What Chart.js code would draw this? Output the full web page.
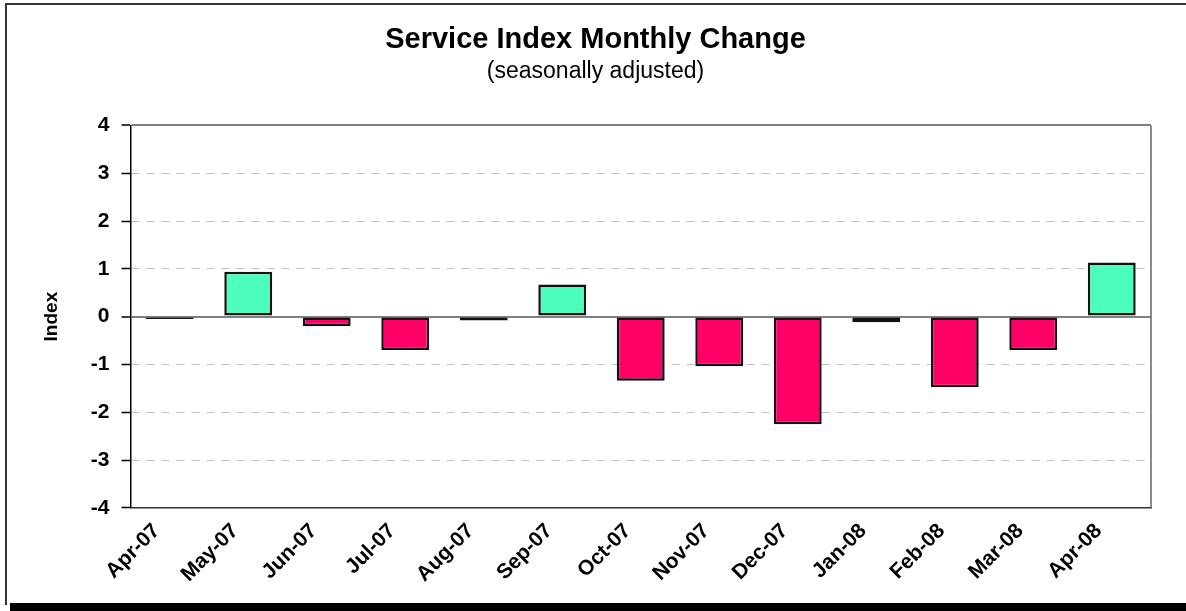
<!DOCTYPE html>
<html>
<head>
<meta charset="utf-8">
<script src="https://cdn.jsdelivr.net/npm/chart.js@4.4.1/dist/chart.umd.min.js"></script>
<style>
	body { margin: 0; background: #fff; overflow: hidden; }
	#wrap { position: absolute; left: 0; top: 0; width: 1186px; height: 611px; }
	#frame { position: absolute; left: 5px; top: 3px; width: 1300px; height: 600px; border-top: 2px solid #333; border-left: 2px solid #333; }
	#shadow { position: absolute; left: 10px; top: 603px; width: 1300px; height: 8px; background: #000; }
</style>
</head>
<body>
<div id="frame"></div>
<div id="shadow"></div>
<div id="wrap"><canvas id="myChart1"></canvas></div>
<script>
var months = ["Apr-07", "May-07", "Jun-07", "Jul-07", "Aug-07", "Sep-07", "Oct-07",
	"Nov-07", "Dec-07", "Jan-08", "Feb-08", "Mar-08", "Apr-08"];
var change = [-0.05, 0.94, -0.2, -0.7, -0.08, 0.67, -1.34, -1.04, -2.25, -0.12, -1.48, -0.7, 1.13];
var yTicks = [-4, -3, -2, -1, 0, 1, 2, 3, 4];

var upColor = "#4DFFBC";
var downColor = "#FF0066";

// right edge of the plot box, like the excel chart
var plotBox = {
	id: 'plotBox',
	afterDraw: function(chart) {
		var a = chart.chartArea;
		var c = chart.ctx;
		c.save();
		c.strokeStyle = "#666";
		c.lineWidth = 1.5;
		c.beginPath();
		c.moveTo(a.right, a.top);
		c.lineTo(a.right, a.bottom);
		c.stroke();
		c.restore();
	}
};

window.onload = function() {
	var ctx = document.getElementById("myChart1").getContext("2d");
	window.myBar = new Chart(ctx, {
		type: 'bar',
		data: {
			labels: months,
			datasets: [{
				label: 'Index',
				data: change,
				backgroundColor: change.map(function(v) { return v >= 0 ? upColor : downColor; }),
				borderColor: "#111",
				borderWidth: 2.5,
				borderSkipped: false,
				barPercentage: 0.61,
				categoryPercentage: 1.0
			}]
		},
		options: {
			responsive: true,
			maintainAspectRatio: false,
			animation: false,
			layout: { padding: { left: 40, right: 35, top: 0, bottom: 21 } },
			plugins: {
				legend: { display: false },
				tooltip: { enabled: false },
				title: {
					display: true,
					text: 'Service Index Monthly Change',
					color: '#000',
					font: { family: 'Liberation Sans, Arial', size: 29, weight: 'bold' },
					padding: { top: 23, bottom: 0 }
				},
				subtitle: {
					display: true,
					text: '(seasonally adjusted)',
					color: '#000',
					font: { family: 'Liberation Sans, Arial', size: 23 },
					padding: { top: 0, bottom: 40 }
				}
			},
			scales: {
				x: {
					grid: { display: false },
					border: { display: true, color: '#333', width: 1.5 },
					ticks: {
						color: '#000',
						maxRotation: 45,
						minRotation: 45,
						autoSkip: false,
						labelOffset: -13,
						font: { family: 'Liberation Sans, Arial', size: 21, weight: 'bold' }
					}
				},
				y: {
					min: -4,
					max: 4,
					afterBuildTicks: function(axis) {
						axis.ticks = yTicks.map(function(v) { return { value: v }; });
					},
					title: {
						display: true,
						text: 'Index',
						color: '#000',
						font: { family: 'Liberation Sans, Arial', size: 19, weight: 'bold' },
						padding: { top: 0, bottom: 16 }
					},
					grid: {
						color: function(c) {
							var v = c.tick ? c.tick.value : 0;
							return (v === 0 || v === 4) ? '#808080' : '#C0C0C0';
						},
						lineWidth: function(c) {
							var v = c.tick ? c.tick.value : 0;
							return (v === 0 || v === 4) ? 2 : 1;
						},
						tickColor: '#000',
						tickLength: 9,
						tickWidth: 1.5,
						tickBorderDash: []
					},
					border: {
						display: true,
						color: '#000',
						width: 1.5,
						dash: function(c) {
							var v = c.tick ? c.tick.value : 0;
							return (v === 0 || Math.abs(v) === 4) ? [] : [8, 7];
						}
					},
					ticks: {
						color: '#000',
						padding: 12,
						font: { family: 'Liberation Sans, Arial', size: 21, weight: 'bold' }
					}
				}
			}
		},
		plugins: [plotBox]
	});
};
</script>
</body>
</html>
